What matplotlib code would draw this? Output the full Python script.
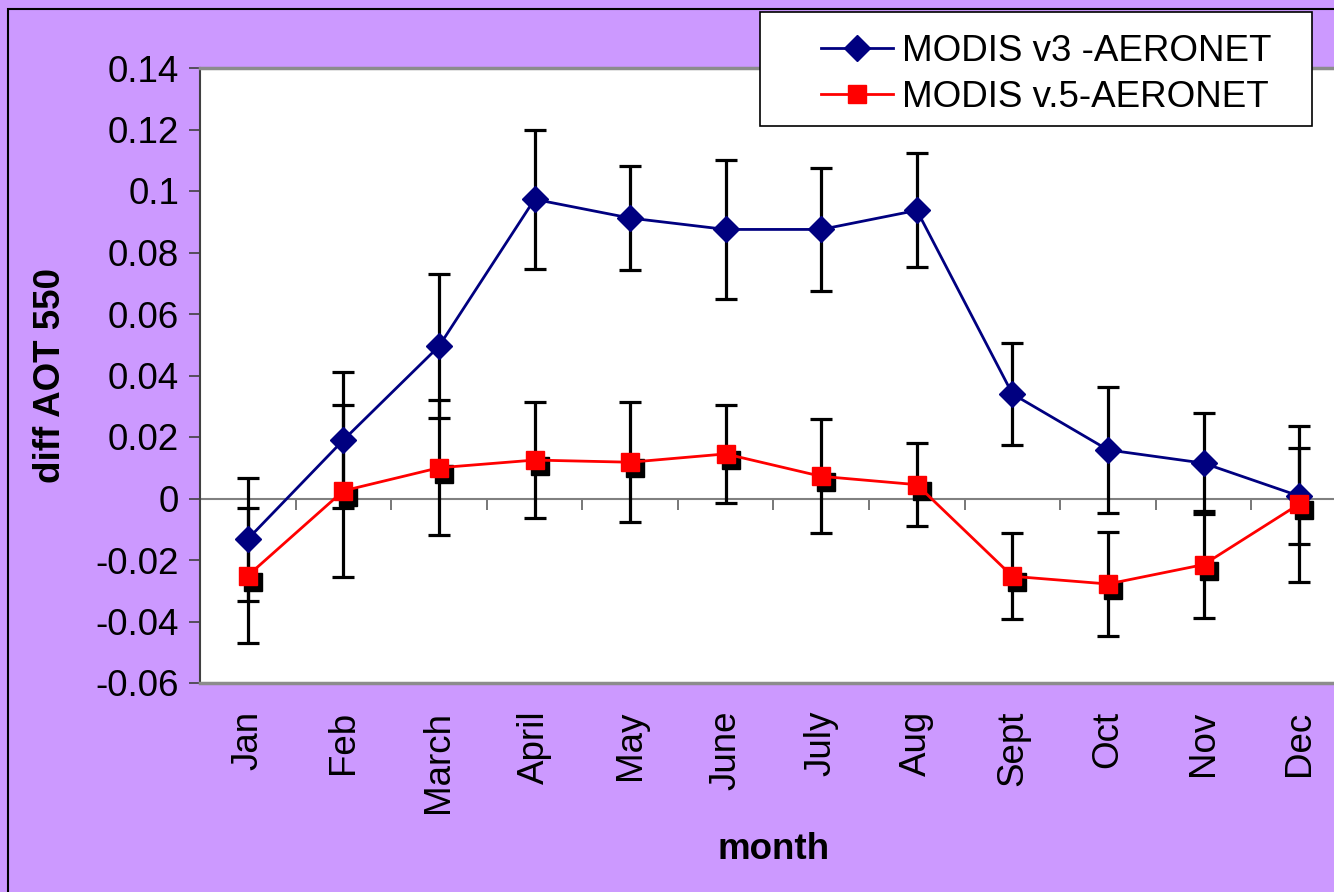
import matplotlib

matplotlib.use("Agg")
import matplotlib.pyplot as plt
from matplotlib.patches import Rectangle
from matplotlib.transforms import offset_copy

plt.rcParams["font.family"] = ["Liberation Sans", "DejaVu Sans"]

BG = "#cc99ff"
NAVY = "#000080"
RED = "#ff0000"
FS = 26.5

months = ["Jan", "Feb", "March", "April", "May", "June", "July", "Aug",
          "Sept", "Oct", "Nov", "Dec"]
v3 = [-0.0132, 0.019, 0.0495, 0.0973, 0.0912, 0.0875, 0.0875, 0.0937,
      0.034, 0.0158, 0.0115, 0.0008]
v3_err = [0.020, 0.022, 0.0234, 0.0226, 0.017, 0.0226, 0.020, 0.0185,
          0.0167, 0.0205, 0.0164, 0.0155]
v5 = [-0.0251, 0.0025, 0.0100, 0.0125, 0.0118, 0.0145, 0.0072, 0.0045,
      -0.0253, -0.0278, -0.0215, -0.0018]
v5_err = [0.022, 0.028, 0.022, 0.019, 0.0195, 0.016, 0.0185, 0.0135,
          0.014, 0.017, 0.0175, 0.0254]
yticks = [-0.06, -0.04, -0.02, 0, 0.02, 0.04, 0.06, 0.08, 0.1, 0.12, 0.14]
ytick_labels = ["-0.06", "-0.04", "-0.02", "0", "0.02", "0.04", "0.06",
                "0.08", "0.1", "0.12", "0.14"]

W, H = 1334, 892
fig = plt.figure(figsize=(W / 100, H / 100), dpi=100)
fig.patch.set_facecolor(BG)
# outer chart border
fig.add_artist(Rectangle((8 / W, -0.01), 1.2, 1 - 9 / H + 0.01, transform=fig.transFigure,
                         fill=False, edgecolor="black", lw=1.5))

ax = fig.add_axes([200 / W, 1 - 683 / H, 1147 / W, 615 / H])
ax.set_facecolor("white")
x = list(range(len(months)))

eb = dict(fmt="none", ecolor="black", elinewidth=2.3, capsize=8, capthick=2.3, zorder=2)
ax.errorbar(x, v3, yerr=v3_err, **eb)
ax.errorbar(x, v5, yerr=v5_err, **eb)

# shadow behind the red squares
shadow = offset_copy(ax.transData, fig=fig, x=5, y=-6, units="dots")
ax.plot(x, v5, "s", color="black", ms=12.5, transform=shadow, zorder=3)

ax.plot(x, v3, "-D", color=NAVY, lw=2.0, ms=13, label="MODIS v3 -AERONET", zorder=4)
ax.plot(x, v5, "-s", color=RED, lw=2.0, ms=12.5, label="MODIS v.5-AERONET", zorder=4)

ax.set_xlim(-0.5, 11.5)
ax.set_ylim(-0.06, 0.14)
ax.set_yticks(yticks, ytick_labels)
ax.set_xticks(x, months, rotation=90)
ax.tick_params(axis="x", length=0, pad=20, labelsize=FS)
ax.tick_params(axis="y", length=8, width=1.2, direction="out", labelsize=FS, pad=7,
               color="#404040")

for side in ("top", "bottom"):
    ax.spines[side].set_color("#8c8c8c")
    ax.spines[side].set_linewidth(2.5)
ax.spines["left"].set_color("#404040")
ax.spines["left"].set_linewidth(1.5)
ax.spines["right"].set_visible(False)

# category axis crossing at zero
zero_pos = (0 - (-0.06)) / (0.14 - (-0.06))
zax = ax.secondary_xaxis(zero_pos)
zax.spines["bottom"].set_color("#808080")
zax.spines["bottom"].set_linewidth(1.5)
zax.set_xticks([i - 0.5 for i in x] + [11.5], [""] * 13)
zax.tick_params(length=8, width=1.2, color="#606060", direction="out")

ax.set_xlabel("month", fontsize=FS, weight="bold", labelpad=14)
ax.set_ylabel("diff AOT 550", fontsize=FS, weight="bold", labelpad=20)

# legend box
fig.add_artist(Rectangle((760 / W, 1 - 126 / H), 552 / W, 114 / H, transform=fig.transFigure,
                         facecolor="white", edgecolor="black", lw=1.2, zorder=5))
leg = fig.legend(loc="upper left", bbox_to_anchor=(795 / W, 1 - 8 / H), frameon=False,
                 fontsize=FS, handlelength=1.95, handletextpad=0.25, labelspacing=0.3,
                 borderpad=0.2)
leg.set_zorder(6)

fig.savefig("out.png", dpi=100, facecolor=BG)
